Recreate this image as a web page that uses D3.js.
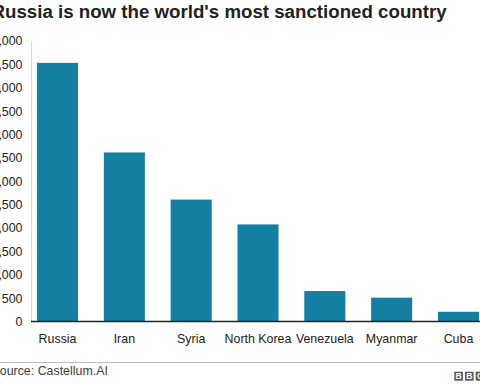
<!DOCTYPE html>
<html>
<head>
<meta charset="utf-8">
<script src="https://cdn.jsdelivr.net/npm/d3@7"></script>
<style>
  html, body { margin: 0; padding: 0; background: #fff; }
  svg { display: block; font-family: "Liberation Sans", Arial, Helvetica, sans-serif; }
</style>
</head>
<body>
<svg id="chart"></svg>
<script>
// Data
const countries = ['Russia', 'Iran', 'Syria', 'North Korea', 'Venezuela', 'Myanmar', 'Cuba'];
const sanctions = [5532, 3616, 2608, 2077, 651, 510, 208];
const yTicks = [0, 500, 1000, 1500, 2000, 2500, 3000, 3500, 4000, 4500, 5000, 5500, 6000];

const titleText = "Russia is now the world's most sanctioned country";
const sourceText = 'Source: Castellum.AI';

const width = 480;
const height = 384;

const svg = d3.select('#chart')
  .attr('width', width)
  .attr('height', height)
  .attr('viewBox', `0 0 ${width} ${height}`);

// The picture is a crop, so the left edge of the original sits off-screen.
const leftEdge = -8.5;
const axisX = 31;
const baseY = 321.5;
const topY = 41;

const xScale = d3.scaleBand()
  .domain(countries)
  .range([axisX, 485])
  .paddingInner(0.386)
  .paddingOuter(0.09);

const yScale = d3.scaleLinear()
  .domain([0, 6000])
  .range([baseY, topY]);

// Title
svg.append('text')
  .attr('x', leftEdge)
  .attr('y', 18)
  .attr('font-size', 18.7)
  .attr('font-weight', 'bold')
  .attr('fill', '#222')
  .text(titleText);

// Y axis labels (no tick marks, no domain line)
const yAxis = d3.axisLeft(yScale)
  .tickValues(yTicks)
  .tickSize(0)
  .tickPadding(8.5)
  .tickFormat(d3.format(','));

svg.append('g')
  .attr('transform', `translate(${axisX}, 0)`)
  .call(yAxis)
  .call((g) => g.select('.domain').remove())
  .call((g) => g.selectAll('text')
    .attr('font-size', 12.4)
    .attr('font-family', null)
    .attr('fill', '#222'));

// Thin grey vertical axis line
svg.append('line')
  .attr('x1', axisX + 0.5)
  .attr('x2', axisX + 0.5)
  .attr('y1', yScale(6000))
  .attr('y2', baseY)
  .attr('stroke', '#d9d9d9')
  .attr('stroke-width', 1);

// Bars
svg.append('g')
  .selectAll('rect')
  .data(countries)
  .join('rect')
  .attr('x', (d) => xScale(d))
  .attr('y', (d, i) => yScale(sanctions[i]))
  .attr('width', xScale.bandwidth())
  .attr('height', (d, i) => baseY - yScale(sanctions[i]))
  .attr('fill', '#1380a1');

// Baseline
svg.append('line')
  .attr('x1', axisX)
  .attr('x2', width)
  .attr('y1', baseY)
  .attr('y2', baseY)
  .attr('stroke', '#222')
  .attr('stroke-width', 1.3);

// Category labels
const xAxis = d3.axisBottom(xScale)
  .tickSize(0)
  .tickPadding(12.7);

svg.append('g')
  .attr('transform', `translate(0, ${baseY})`)
  .call(xAxis)
  .call((g) => g.select('.domain').remove())
  .call((g) => g.selectAll('text')
    .attr('font-size', 12.4)
    .attr('font-family', null)
    .attr('fill', '#222'));

// Footer divider
svg.append('line')
  .attr('x1', 0)
  .attr('x2', width)
  .attr('y1', 362.5)
  .attr('y2', 362.5)
  .attr('stroke', '#bdbdbd')
  .attr('stroke-width', 1);

svg.append('text')
  .attr('x', leftEdge)
  .attr('y', 375)
  .attr('font-size', 12.4)
  .attr('fill', '#404040')
  .text(sourceText);

// BBC blocks, cut off at the right edge
const logoLetters = ['B', 'B', 'C'];
const logo = svg.append('g')
  .selectAll('g')
  .data(logoLetters)
  .join('g')
  .attr('transform', (d, i) => `translate(${454.3 + i * 10.7}, 371.7)`);

logo.append('rect')
  .attr('width', 8.6)
  .attr('height', 9)
  .attr('fill', '#5a5a5a');

logo.append('text')
  .attr('x', 4.3)
  .attr('y', 7.6)
  .attr('text-anchor', 'middle')
  .attr('font-size', 8.5)
  .attr('font-weight', 'bold')
  .attr('fill', '#fff')
  .text((d) => d);
</script>
</body>
</html>
